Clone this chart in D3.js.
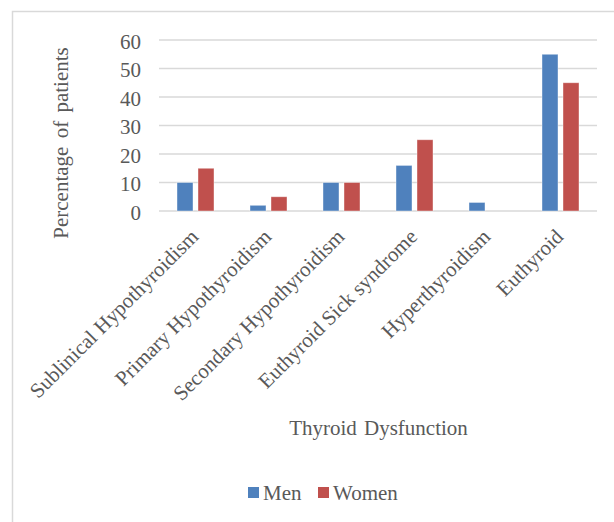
<!DOCTYPE html>
<html><head><meta charset="utf-8">
<script src="https://cdn.jsdelivr.net/npm/d3@7"></script>
<style>body{margin:0;background:#fff}svg{display:block}text{font-family:"Liberation Serif","Times New Roman",serif;fill:#595959}</style>
</head><body>
<script>
const categories = ["Sublinical Hypothyroidism","Primary Hypothyroidism","Secondary Hypothyroidism","Euthyroid Sick syndrome","Hyperthyroidism","Euthyroid"];
const seriesNames = ["Men","Women"];
const men = [10, 2, 10, 16, 3, 55];
const women = [15, 5, 10, 25, 0, 45];
const yTicks = [0,10,20,30,40,50,60];
const colors = ["#4F81BD","#C0504D"];

(function(){
const W=614,H=522;
const svg=d3.select("body").append("svg").attr("width",W).attr("height",H);
svg.append("rect").attr("x",12.5).attr("y",11.5).attr("width",W).attr("height",H).attr("fill","#fff").attr("stroke","#d9d9d9").attr("stroke-width",1.5);

const mL=159,mR=597,mT=40,mB=211;
const x=d3.scaleBand().domain(categories).range([mL,mR]);
const y=d3.scaleLinear().domain([0,60]).range([mB,mT]);

const g=svg.append("g");
g.selectAll("line.grid").data(yTicks).join("line").attr("class","grid").attr("x1",mL).attr("x2",mR)
 .attr("y1",d=>y(d)).attr("y2",d=>y(d)).attr("stroke","#d9d9d9").attr("stroke-width",1.5);
g.selectAll("text.yt").data(yTicks).join("text").attr("class","yt").attr("x",141).attr("y",d=>y(d)+8.5)
 .attr("text-anchor","end").attr("font-size",21).text(d=>d);

const data=[men,women];
const bw=16, gap=5;
data.forEach((vals,si)=>{
  g.selectAll("rect.s"+si).data(vals).join("rect").attr("class","s"+si)
   .attr("x",(d,i)=>x(categories[i])+x.bandwidth()/2+(si===0?-(bw+gap/2):gap/2))
   .attr("width",bw)
   .attr("y",d=>y(d)).attr("height",d=>y(0)-y(d))
   .attr("fill",colors[si]).attr("stroke",d=>d>0?"#fff":"none").attr("stroke-opacity",0.5).attr("stroke-width",0.8);
});

g.selectAll("text.cat").data(categories).join("text").attr("class","cat")
 .attr("transform",d=>`translate(${x(d)+x.bandwidth()/2+4},${238}) rotate(-45)`)
 .attr("text-anchor","end").attr("font-size",21).text(d=>d);

svg.append("text").attr("transform",`translate(68,143) rotate(-90)`).attr("text-anchor","middle")
 .attr("font-size",21).attr("word-spacing",3).text("Percentage of patients");
svg.append("text").attr("x",378.5).attr("y",435).attr("text-anchor","middle").attr("font-size",21)
 .attr("word-spacing",2).text("Thyroid Dysfunction");

const leg=svg.append("g");
const lx=[248,318];
seriesNames.forEach((n,i)=>{
  leg.append("rect").attr("x",lx[i]).attr("y",487).attr("width",11).attr("height",11).attr("fill",colors[i]);
  leg.append("text").attr("x",lx[i]+15).attr("y",500).attr("font-size",21).text(n);
});
})();
</script>
</body></html>
